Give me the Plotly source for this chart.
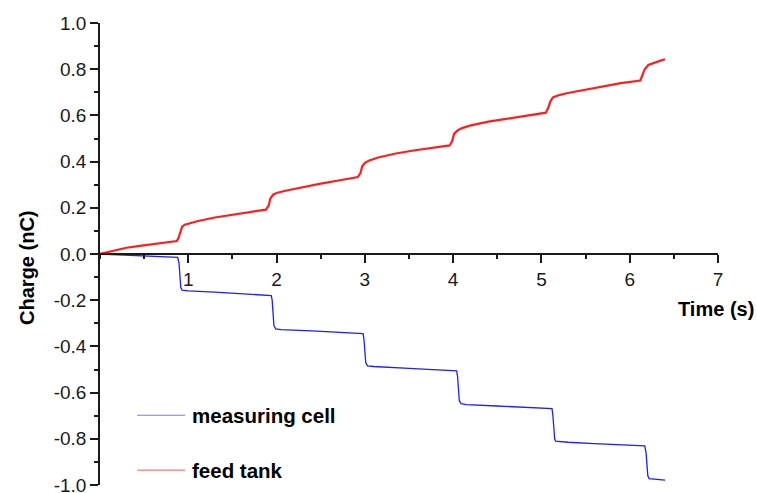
import plotly.graph_objects as go

# ---- data ----
feed_t = [0, 0.1, 0.2, 0.3, 0.45, 0.6, 0.75, 0.87,
          0.89, 0.91, 0.93, 0.96, 1.0, 1.1, 1.3, 1.5, 1.7, 1.88,
          1.91, 1.93, 1.96, 2.0, 2.1, 2.3, 2.5, 2.7, 2.92,
          2.95, 2.97, 3.0, 3.05, 3.15, 3.35, 3.55, 3.75, 3.96,
          3.99, 4.01, 4.05, 4.1, 4.2, 4.4, 4.6, 4.8, 5.05,
          5.08, 5.1, 5.13, 5.2, 5.3, 5.5, 5.7, 5.9, 6.12,
          6.14, 6.17, 6.21, 6.27, 6.35, 6.40]
feed_q = [0, 0.010, 0.019, 0.027, 0.035, 0.042, 0.050, 0.056,
          0.070, 0.100, 0.118, 0.127, 0.132, 0.142, 0.158, 0.170, 0.182, 0.192,
          0.210, 0.240, 0.257, 0.264, 0.274, 0.290, 0.305, 0.318, 0.333,
          0.350, 0.380, 0.395, 0.405, 0.418, 0.435, 0.448, 0.460, 0.470,
          0.490, 0.520, 0.535, 0.545, 0.557, 0.573, 0.585, 0.597, 0.612,
          0.635, 0.660, 0.678, 0.688, 0.697, 0.712, 0.728, 0.740, 0.751,
          0.770, 0.800, 0.818, 0.827, 0.837, 0.843]

cell_t = [0, 0.3, 0.6, 0.88,
          0.895, 0.905, 0.915, 0.93, 1.0, 1.3, 1.6, 1.94,
          1.95, 1.96, 1.97, 1.99, 2.05, 2.4, 2.7, 2.98,
          2.99, 3.0, 3.01, 3.03, 3.1, 3.5, 3.8, 4.04,
          4.05, 4.06, 4.07, 4.09, 4.15, 4.5, 4.8, 5.12,
          5.13, 5.14, 5.15, 5.16, 5.3, 5.6, 5.9, 6.17,
          6.185, 6.195, 6.205, 6.22, 6.3, 6.40]
cell_q = [0, -0.006, -0.011, -0.015,
          -0.040, -0.100, -0.145, -0.156, -0.160, -0.165, -0.171, -0.180,
          -0.200, -0.260, -0.310, -0.324, -0.327, -0.333, -0.338, -0.345,
          -0.370, -0.430, -0.470, -0.484, -0.487, -0.495, -0.500, -0.506,
          -0.530, -0.590, -0.635, -0.648, -0.652, -0.658, -0.664, -0.669,
          -0.700, -0.760, -0.800, -0.810, -0.815, -0.821, -0.826, -0.831,
          -0.860, -0.920, -0.960, -0.972, -0.976, -0.979]

series_names = ["measuring cell", "feed tank"]
x_ticks = [1, 2, 3, 4, 5, 6, 7]
y_ticks = [-1.0, -0.8, -0.6, -0.4, -0.2, 0.0, 0.2, 0.4, 0.6, 0.8, 1.0]
y_ticklabels = ["-1.0", "-0.8", "-0.6", "-0.4", "-0.2", "0.0", "0.2", "0.4", "0.6", "0.8", "1.0"]

BLUE = "rgb(30,30,255)"
RED = "rgb(255,30,30)"
FONT = "Liberation Sans, Arial, sans-serif"
AX = "#1a1a1a"

fig = go.Figure()
fig.add_trace(go.Scatter(x=cell_t, y=cell_q, mode="lines", name=series_names[0],
                         line=dict(color=BLUE, width=1.3), showlegend=False))
fig.add_trace(go.Scatter(x=feed_t, y=feed_q, mode="lines", name=series_names[1],
                         line=dict(color=RED, width=2.2), showlegend=False))

# manual legend (sample line + text)
leg_y = [-0.698, -0.936]
leg_col = [BLUE, RED]
for name, yy, col in zip(series_names, leg_y, leg_col):
    fig.add_shape(type="line", xref="x", yref="y", x0=0.42, x1=0.963, y0=yy, y1=yy,
                  line=dict(color=col, width=1.2), opacity=0.6)
    fig.add_annotation(xref="x", yref="y", x=1.02, y=yy, text=name, showarrow=False,
                       xanchor="left", yanchor="middle",
                       font=dict(family=FONT, size=20.5, color="black", weight="bold"))

# axis titles
fig.add_annotation(xref="paper", yref="y", x=-0.118, y=-0.06, text="Charge (nC)",
                   textangle=-90, showarrow=False, xanchor="center", yanchor="middle",
                   font=dict(family=FONT, size=20, color="black", weight="bold"))
fig.add_annotation(xref="paper", yref="y", x=1.062, y=-0.24, text="Time (s)",
                   showarrow=False, xanchor="right", yanchor="middle",
                   font=dict(family=FONT, size=20, color="black", weight="bold"))
# panel title, clipped at the top edge as in the reference
fig.add_annotation(xref="paper", yref="paper", x=(391 - 100) / 618, y=(485 - 2) / 462,
                   text="(a)", showarrow=False, xanchor="center", yanchor="bottom",
                   font=dict(family=FONT, size=20, color="black"))

fig.update_layout(
    width=757, height=493,
    margin=dict(l=100, r=39, t=23, b=8, autoexpand=False),
    paper_bgcolor="white", plot_bgcolor="white",
    font=dict(family=FONT, size=19, color=AX),
    xaxis=dict(range=[0, 7], anchor="free", position=0.5, side="bottom", automargin=False,
               showline=True, linecolor=AX, linewidth=1.5,
               tickmode="array", tickvals=x_ticks,
               ticks="outside", ticklen=8, tickwidth=1.5, tickcolor=AX,
               minor=dict(dtick=0.5, tick0=0, ticks="outside", ticklen=4, tickwidth=1.5, tickcolor=AX),
               showgrid=False, zeroline=False, ticklabeloverflow="allow",
               tickfont=dict(family=FONT, size=19, color=AX)),
    yaxis=dict(range=[-1, 1], automargin=False, showline=True, linecolor=AX, linewidth=1.5,
               tickmode="array", tickvals=y_ticks, ticktext=y_ticklabels,
               ticks="outside", ticklen=8, tickwidth=1.5, tickcolor=AX,
               minor=dict(dtick=0.1, tick0=0, ticks="outside", ticklen=4, tickwidth=1.5, tickcolor=AX),
               showgrid=False, zeroline=False, ticklabeloverflow="allow",
               tickfont=dict(family=FONT, size=19, color=AX)),
)

fig.write_html("out.html")
